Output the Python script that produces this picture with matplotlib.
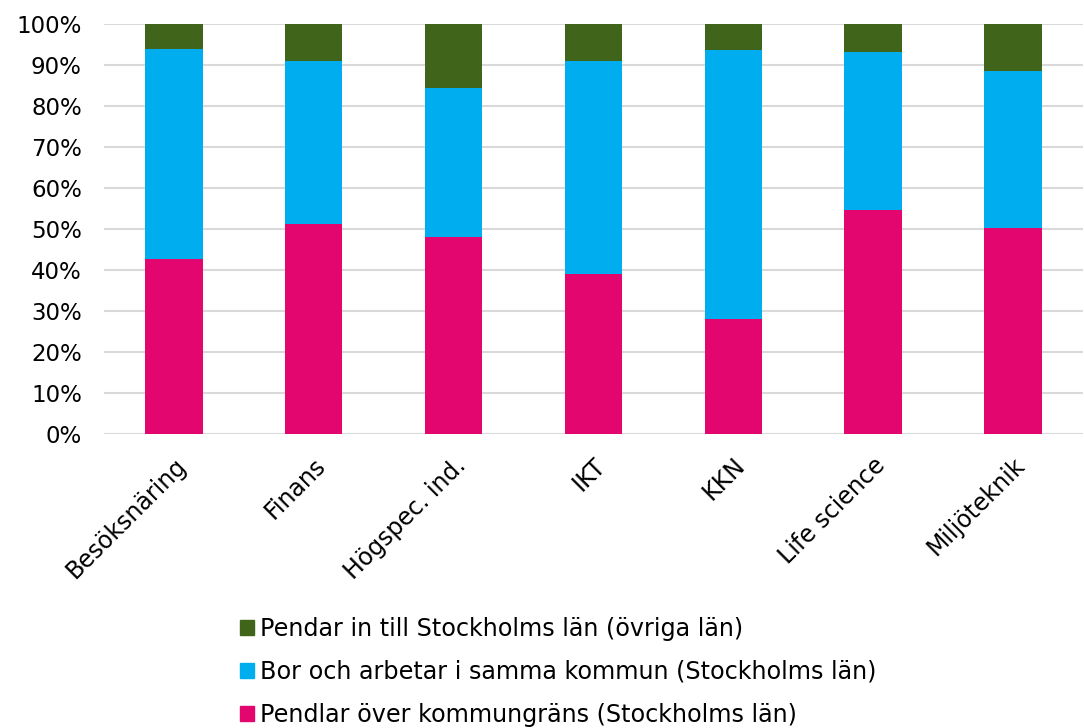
import matplotlib
matplotlib.use('Agg')
import matplotlib.pyplot as plt
import numpy as np
from matplotlib.patches import Patch
from matplotlib.ticker import PercentFormatter

# data (percent of employed, stacked)
categories = ['Besöksnäring', 'Finans', 'Högspec. ind.', 'IKT', 'KKN',
              'Life science', 'Miljöteknik']
pendlar_over = [42.7, 51.2, 48.1, 38.9, 28.0, 54.6, 50.2]
bor_samma = [51.1, 39.8, 36.3, 52.1, 65.7, 38.6, 38.3]
pendlar_in = [6.2, 9.0, 15.6, 9.0, 6.3, 6.8, 11.5]

labels = ['Pendlar över kommungräns (Stockholms län)',
          'Bor och arbetar i samma kommun (Stockholms län)',
          'Pendar in till Stockholms län (övriga län)']
colors = ['#E2066E', '#00AEEF', '#40651A']

plt.rcParams['font.family'] = ['DejaVu Sans']

fig = plt.figure(figsize=(10.84, 7.28), dpi=100)
ax = fig.add_axes([0.096, 0.404, 0.903, 0.563])

x = np.arange(len(categories))
width = 0.41
bottom = np.zeros(len(categories))
for vals, col in zip([pendlar_over, bor_samma, pendlar_in], colors):
    ax.bar(x, vals, width, bottom=bottom, color=col, zorder=3)
    bottom = bottom + np.array(vals)

ax.set_ylim(0, 100)
ax.set_xlim(-0.5, len(categories) - 0.5)
ax.set_yticks(np.arange(0, 101, 10))
ax.yaxis.set_major_formatter(PercentFormatter(decimals=0))
ax.grid(axis='y', color='#D9D9D9', linewidth=1.5, zorder=0)
ax.set_axisbelow(True)
for s in ax.spines.values():
    s.set_visible(False)
ax.tick_params(axis='both', length=0, labelsize=16.5, colors='#000000')
ax.tick_params(axis='y', pad=16)
ax.tick_params(axis='x', pad=14)
ax.set_xticks(x)
ax.set_xticklabels(categories, rotation=45, ha='right',
                   rotation_mode='anchor', fontsize=17)

handles = [Patch(color=c) for c in colors][::-1]
fig.legend(handles, labels[::-1], loc='upper left',
           bbox_to_anchor=(0.221, 0.153), frameon=False, fontsize=17.2,
           handlelength=0.6, handleheight=0.6, handletextpad=0.25,
           labelspacing=0.8, borderpad=0, borderaxespad=0)

fig.savefig('out.png', dpi=100)
